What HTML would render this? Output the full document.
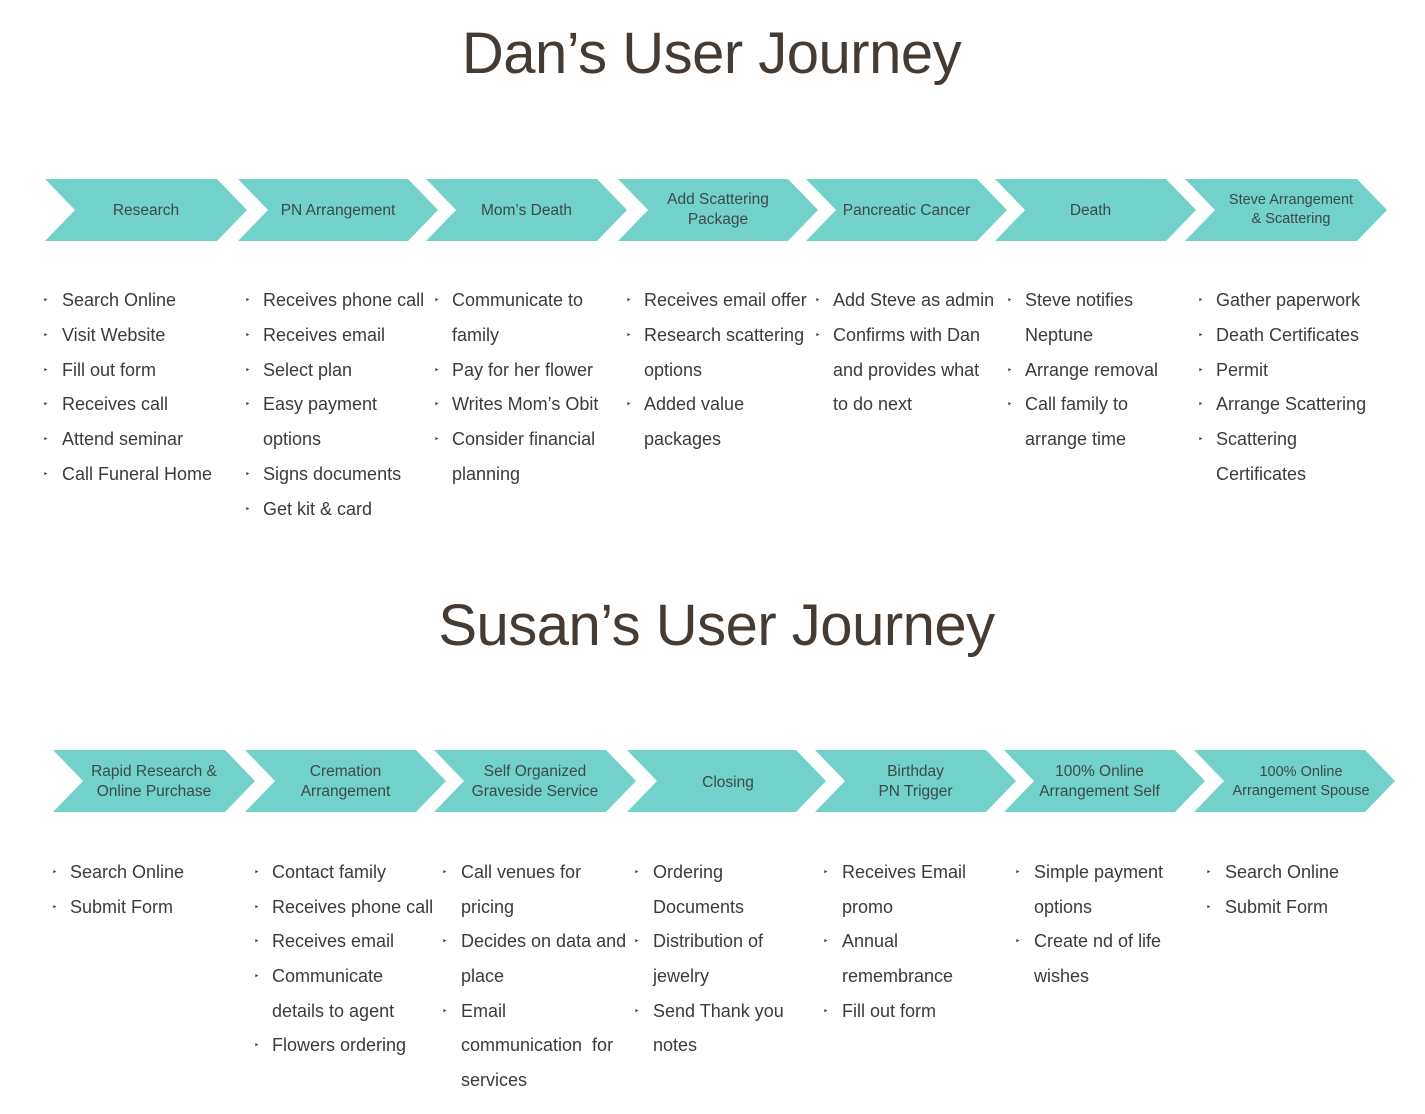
<!DOCTYPE html>
<html><head><meta charset="utf-8"><style>
body{margin:0;width:1425px;height:1114px;background:#fff;position:relative;overflow:hidden;font-family:"Liberation Sans",sans-serif;}
.t{position:absolute;left:0;width:1425px;text-align:center;font-size:58px;color:#463b33;letter-spacing:-0.5px;line-height:1;}
.l{position:absolute;font-size:18px;color:#3f3a36;line-height:20px;white-space:nowrap;}
.b{position:absolute;font-size:9px;color:#3f3a36;line-height:10px;}
.c{position:absolute;font-size:15.5px;color:#3d4a48;text-align:center;line-height:20px;}
svg{position:absolute;left:0;top:0;}
</style></head><body>
<div class="t" style="top:25px;left:-1px">Dan’s User Journey</div>
<div class="t" style="top:597px;left:4px">Susan’s User Journey</div>
<svg width="1425" height="1114">
<g fill="#72d1c9">
<polygon points="45,179 217,179 247,210 217,241 45,241 75,210"/>
<polygon points="238,179 408,179 438,210 408,241 238,241 268,210"/>
<polygon points="426,179 597,179 627,210 597,241 426,241 456,210"/>
<polygon points="618,179 788,179 818,210 788,241 618,241 648,210"/>
<polygon points="806,179 977,179 1007,210 977,241 806,241 836,210"/>
<polygon points="995,179 1166,179 1196,210 1166,241 995,241 1025,210"/>
<polygon points="1185,179 1357,179 1387,210 1357,241 1185,241 1215,210"/>
<polygon points="53,750 225,750 255,781 225,812 53,812 83,781"/>
<polygon points="245,750 416,750 446,781 416,812 245,812 275,781"/>
<polygon points="434,750 606,750 636,781 606,812 434,812 464,781"/>
<polygon points="627,750 796,750 826,781 796,812 627,812 657,781"/>
<polygon points="815,750 986,750 1016,781 986,812 815,812 845,781"/>
<polygon points="1004,750 1175,750 1205,781 1175,812 1004,812 1034,781"/>
<polygon points="1194,750 1365,750 1395,781 1365,812 1194,812 1224,781"/>
</g></svg>
<!-- chevron labels row1 -->
<div class="c" style="left:60px;width:172px;top:201px">Research</div>
<div class="c" style="left:253px;width:170px;top:201px">PN Arrangement</div>
<div class="c" style="left:441px;width:171px;top:201px">Mom’s Death</div>
<div class="c" style="left:633px;width:170px;top:190px">Add Scattering<br>Package</div>
<div class="c" style="left:821px;width:171px;top:201px">Pancreatic Cancer</div>
<div class="c" style="left:1005px;width:171px;top:201px">Death</div>
<div class="c" style="left:1200px;width:182px;top:191px;font-size:14.5px;line-height:19px">Steve Arrangement<br>&amp; Scattering</div>
<!-- row2 labels -->
<div class="c" style="left:68px;width:172px;top:762px">Rapid Research &amp;<br>Online Purchase</div>
<div class="c" style="left:260px;width:171px;top:762px">Cremation<br>Arrangement</div>
<div class="c" style="left:449px;width:172px;top:762px">Self Organized<br>Graveside Service</div>
<div class="c" style="left:642px;width:172px;top:773px">Closing</div>
<div class="c" style="left:830px;width:171px;top:762px">Birthday<br>PN Trigger</div>
<div class="c" style="left:1014px;width:171px;top:762px">100% Online<br>Arrangement Self</div>
<div class="c" style="left:1202px;width:198px;top:763px;font-size:14.5px;line-height:19px">100% Online<br>Arrangement Spouse</div>

<!-- Dan bullets -->
<div class="b" style="left:43px;top:295px">‣</div><div class="l" style="left:62px;top:290px">Search Online</div>
<div class="b" style="left:43px;top:330px">‣</div><div class="l" style="left:62px;top:325px">Visit Website</div>
<div class="b" style="left:43px;top:365px">‣</div><div class="l" style="left:62px;top:360px">Fill out form</div>
<div class="b" style="left:43px;top:399px">‣</div><div class="l" style="left:62px;top:394px">Receives call</div>
<div class="b" style="left:43px;top:434px">‣</div><div class="l" style="left:62px;top:429px">Attend seminar</div>
<div class="b" style="left:43px;top:469px">‣</div><div class="l" style="left:62px;top:464px">Call Funeral Home</div>

<div class="b" style="left:245px;top:295px">‣</div><div class="l" style="left:263px;top:290px">Receives phone call</div>
<div class="b" style="left:245px;top:330px">‣</div><div class="l" style="left:263px;top:325px">Receives email</div>
<div class="b" style="left:245px;top:365px">‣</div><div class="l" style="left:263px;top:360px">Select plan</div>
<div class="b" style="left:245px;top:399px">‣</div><div class="l" style="left:263px;top:394px">Easy payment</div>
<div class="l" style="left:263px;top:429px">options</div>
<div class="b" style="left:245px;top:469px">‣</div><div class="l" style="left:263px;top:464px">Signs documents</div>
<div class="b" style="left:245px;top:504px">‣</div><div class="l" style="left:263px;top:499px">Get kit &amp; card</div>

<div class="b" style="left:434px;top:295px">‣</div><div class="l" style="left:452px;top:290px">Communicate to</div>
<div class="l" style="left:452px;top:325px">family</div>
<div class="b" style="left:434px;top:365px">‣</div><div class="l" style="left:452px;top:360px">Pay for her flower</div>
<div class="b" style="left:434px;top:399px">‣</div><div class="l" style="left:452px;top:394px">Writes Mom’s Obit</div>
<div class="b" style="left:434px;top:434px">‣</div><div class="l" style="left:452px;top:429px">Consider financial</div>
<div class="l" style="left:452px;top:464px">planning</div>

<div class="b" style="left:626px;top:295px">‣</div><div class="l" style="left:644px;top:290px">Receives email offer</div>
<div class="b" style="left:626px;top:330px">‣</div><div class="l" style="left:644px;top:325px">Research scattering</div>
<div class="l" style="left:644px;top:360px">options</div>
<div class="b" style="left:626px;top:399px">‣</div><div class="l" style="left:644px;top:394px">Added value</div>
<div class="l" style="left:644px;top:429px">packages</div>

<div class="b" style="left:815px;top:295px">‣</div><div class="l" style="left:833px;top:290px">Add Steve as admin</div>
<div class="b" style="left:815px;top:330px">‣</div><div class="l" style="left:833px;top:325px">Confirms with Dan</div>
<div class="l" style="left:833px;top:360px">and provides what</div>
<div class="l" style="left:833px;top:394px">to do next</div>

<div class="b" style="left:1007px;top:295px">‣</div><div class="l" style="left:1025px;top:290px">Steve notifies</div>
<div class="l" style="left:1025px;top:325px">Neptune</div>
<div class="b" style="left:1007px;top:365px">‣</div><div class="l" style="left:1025px;top:360px">Arrange removal</div>
<div class="b" style="left:1007px;top:399px">‣</div><div class="l" style="left:1025px;top:394px">Call family to</div>
<div class="l" style="left:1025px;top:429px">arrange time</div>

<div class="b" style="left:1198px;top:295px">‣</div><div class="l" style="left:1216px;top:290px">Gather paperwork</div>
<div class="b" style="left:1198px;top:330px">‣</div><div class="l" style="left:1216px;top:325px">Death Certificates</div>
<div class="b" style="left:1198px;top:365px">‣</div><div class="l" style="left:1216px;top:360px">Permit</div>
<div class="b" style="left:1198px;top:399px">‣</div><div class="l" style="left:1216px;top:394px">Arrange Scattering</div>
<div class="b" style="left:1198px;top:434px">‣</div><div class="l" style="left:1216px;top:429px">Scattering</div>
<div class="l" style="left:1216px;top:464px">Certificates</div>

<!-- Susan bullets -->
<div class="b" style="left:52px;top:867px">‣</div><div class="l" style="left:70px;top:862px">Search Online</div>
<div class="b" style="left:52px;top:902px">‣</div><div class="l" style="left:70px;top:897px">Submit Form</div>

<div class="b" style="left:254px;top:867px">‣</div><div class="l" style="left:272px;top:862px">Contact family</div>
<div class="b" style="left:254px;top:902px">‣</div><div class="l" style="left:272px;top:897px">Receives phone call</div>
<div class="b" style="left:254px;top:936px">‣</div><div class="l" style="left:272px;top:931px">Receives email</div>
<div class="b" style="left:254px;top:971px">‣</div><div class="l" style="left:272px;top:966px">Communicate</div>
<div class="l" style="left:272px;top:1001px">details to agent</div>
<div class="b" style="left:254px;top:1040px">‣</div><div class="l" style="left:272px;top:1035px">Flowers ordering</div>

<div class="b" style="left:442px;top:867px">‣</div><div class="l" style="left:461px;top:862px">Call venues for</div>
<div class="l" style="left:461px;top:897px">pricing</div>
<div class="b" style="left:442px;top:936px">‣</div><div class="l" style="left:461px;top:931px">Decides on data and</div>
<div class="l" style="left:461px;top:966px">place</div>
<div class="b" style="left:442px;top:1006px">‣</div><div class="l" style="left:461px;top:1001px">Email</div>
<div class="l" style="left:461px;top:1035px">communication&nbsp; for</div>
<div class="l" style="left:461px;top:1070px">services</div>

<div class="b" style="left:634px;top:867px">‣</div><div class="l" style="left:653px;top:862px">Ordering</div>
<div class="l" style="left:653px;top:897px">Documents</div>
<div class="b" style="left:634px;top:936px">‣</div><div class="l" style="left:653px;top:931px">Distribution of</div>
<div class="l" style="left:653px;top:966px">jewelry</div>
<div class="b" style="left:634px;top:1006px">‣</div><div class="l" style="left:653px;top:1001px">Send Thank you</div>
<div class="l" style="left:653px;top:1035px">notes</div>

<div class="b" style="left:823px;top:867px">‣</div><div class="l" style="left:842px;top:862px">Receives Email</div>
<div class="l" style="left:842px;top:897px">promo</div>
<div class="b" style="left:823px;top:936px">‣</div><div class="l" style="left:842px;top:931px">Annual</div>
<div class="l" style="left:842px;top:966px">remembrance</div>
<div class="b" style="left:823px;top:1006px">‣</div><div class="l" style="left:842px;top:1001px">Fill out form</div>

<div class="b" style="left:1015px;top:867px">‣</div><div class="l" style="left:1034px;top:862px">Simple payment</div>
<div class="l" style="left:1034px;top:897px">options</div>
<div class="b" style="left:1015px;top:936px">‣</div><div class="l" style="left:1034px;top:931px">Create nd of life</div>
<div class="l" style="left:1034px;top:966px">wishes</div>

<div class="b" style="left:1206px;top:867px">‣</div><div class="l" style="left:1225px;top:862px">Search Online</div>
<div class="b" style="left:1206px;top:902px">‣</div><div class="l" style="left:1225px;top:897px">Submit Form</div>
</body></html>
